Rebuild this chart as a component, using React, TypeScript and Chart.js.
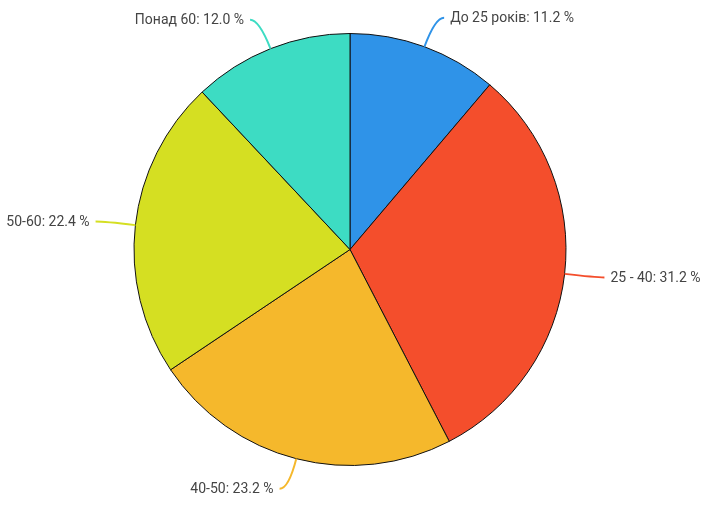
import React, { useEffect, useRef } from "react";
import { Chart, registerables } from "chart.js";

Chart.register(...registerables);

const categories = ["До 25 років", "25 - 40", "40-50", "50-60", "Понад 60"];
const shares = [11.2, 31.2, 23.2, 22.4, 12.0];
const colors = ["#2f93e8", "#f44e2c", "#f5b82c", "#d5df22", "#3ddcc3"];

const labelPlugin = {
  id: "leaderLabels",
  afterDatasetsDraw(chart: any) {
    const ctx = chart.ctx;
    const meta = chart.getDatasetMeta(0);
    ctx.save();
    ctx.font = "14px Roboto";
    ctx.textBaseline = "middle";
    meta.data.forEach((arc: any, i: number) => {
      const { x, y, startAngle, endAngle, outerRadius } = arc.getProps(
        ["x", "y", "startAngle", "endAngle", "outerRadius"],
        true
      );
      const mid = (startAngle + endAngle) / 2;
      const cos = Math.cos(mid);
      const sin = Math.sin(mid);
      const x0 = x + cos * outerRadius;
      const y0 = y + sin * outerRadius;
      const ext = 31;
      const x1 = x + cos * (outerRadius + ext);
      const y1 = y + sin * (outerRadius + ext);
      const right = cos >= 0;
      const x2 = x1 + (right ? 9 : -9);
      const y2 = y1;
      ctx.strokeStyle = colors[i];
      ctx.lineWidth = 2;
      ctx.beginPath();
      ctx.moveTo(x0, y0);
      ctx.quadraticCurveTo(x1, y1, x2, y2);
      ctx.stroke();
      ctx.fillStyle = "#444444";
      ctx.textAlign = right ? "left" : "right";
      const text = `${categories[i]}: ${shares[i].toFixed(1)} %`;
      ctx.fillText(text, x2 + (right ? 6 : -6), y2 + 1);
    });
    ctx.restore();
  },
};

export default function App() {
  const ref = useRef<HTMLCanvasElement>(null);
  useEffect(() => {
    document.body.style.margin = "0";
    const chart = new Chart(ref.current!, {
      type: "pie",
      data: {
        labels: categories,
        datasets: [
          {
            data: shares,
            backgroundColor: colors,
            borderColor: "#111111",
            borderWidth: 1,
          },
        ],
      },
      options: {
        responsive: false,
        animation: false,
        layout: { padding: { top: 33, bottom: 40, left: 0, right: 4 } },
        plugins: {
          legend: { display: false },
          tooltip: { enabled: false },
        },
      },
      plugins: [labelPlugin],
    });
    return () => chart.destroy();
  }, []);
  return (
    <div style={{ width: 704, height: 506, background: "#ffffff" }}>
      <canvas ref={ref} width={704} height={506} />
    </div>
  );
}
